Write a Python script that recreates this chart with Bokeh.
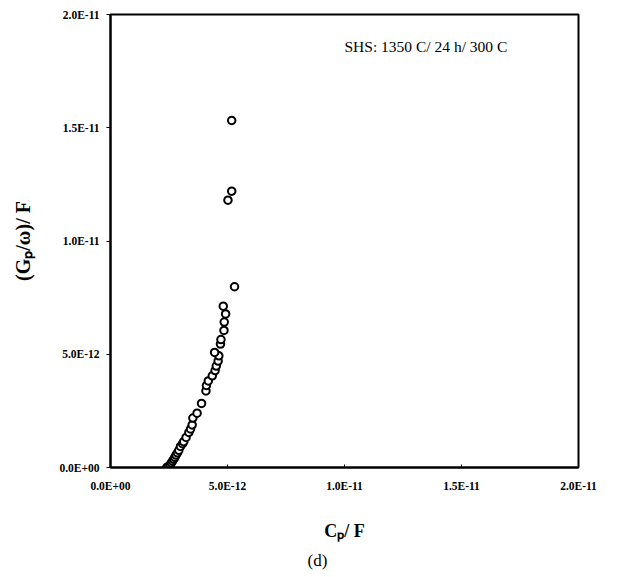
from bokeh.plotting import figure
from bokeh.models import Range1d, FixedTicker, Label, Title
from bokeh.embed import file_html
from bokeh.resources import INLINE

# Data (Cp / F  vs  (Gp/omega) / F)
cp_F = [2.40e-12, 2.48e-12, 2.55e-12, 2.60e-12, 2.65e-12, 2.70e-12, 2.75e-12, 2.80e-12,
        2.86e-12, 2.92e-12, 2.99e-12, 3.08e-12, 3.13e-12, 3.23e-12, 3.35e-12, 3.42e-12,
        3.49e-12, 3.52e-12, 3.70e-12, 3.89e-12, 4.08e-12, 4.10e-12, 4.18e-12, 4.35e-12,
        4.47e-12, 4.52e-12, 4.60e-12, 4.63e-12, 4.45e-12, 4.70e-12, 4.72e-12, 4.85e-12,
        4.86e-12, 4.92e-12, 4.82e-12, 5.30e-12, 5.02e-12, 5.18e-12, 5.18e-12]
gp_w_F = [0.00e-12, 0.05e-12, 0.12e-12, 0.20e-12, 0.28e-12, 0.36e-12, 0.45e-12, 0.55e-12,
          0.65e-12, 0.76e-12, 0.93e-12, 1.05e-12, 1.14e-12, 1.33e-12, 1.55e-12, 1.70e-12,
          1.88e-12, 2.18e-12, 2.40e-12, 2.83e-12, 3.38e-12, 3.62e-12, 3.82e-12, 4.05e-12,
          4.28e-12, 4.48e-12, 4.70e-12, 4.93e-12, 5.08e-12, 5.45e-12, 5.65e-12, 6.05e-12,
          6.42e-12, 6.78e-12, 7.12e-12, 7.98e-12, 11.80e-12, 12.20e-12, 15.32e-12]

tick_values = [0.0, 5e-12, 1e-11, 1.5e-11, 2e-11]
tick_labels = ["0.0E+00", "5.0E-12", "1.0E-11", "1.5E-11", "2.0E-11"]

annotation_text = "SHS: 1350 C/ 24 h/ 300 C"
x_label = "Cₚ/ F"
y_label = "(Gₚ/ω)/ F"
caption = "(d)"

SERIF = "Liberation Serif"

p = figure(frame_width=468, frame_height=453,
           min_border_left=110, min_border_right=59, min_border_top=14, min_border_bottom=80,
           x_range=Range1d(0, 2e-11), y_range=Range1d(0, 2e-11),
           output_backend="svg", toolbar_location=None)

p.scatter(cp_F, gp_w_F, size=7.5, marker="circle", fill_color="white",
          line_color="black", line_width=2)

p.grid.visible = False
p.outline_line_color = "black"
p.outline_line_width = 2
p.background_fill_color = "white"
p.border_fill_color = "white"

for ax in (p.xaxis, p.yaxis):
    ax.ticker = FixedTicker(ticks=tick_values)
    ax.major_label_overrides = dict(zip(tick_values, tick_labels))
    ax.minor_tick_line_color = None
    ax.axis_line_color = "black"
    ax.axis_line_width = 2
    ax.major_tick_line_color = "black"
    ax.major_tick_line_width = 1
    ax.major_label_text_font = SERIF
    ax.major_label_text_font_style = "bold"
    ax.major_label_text_font_size = "11.5px"
    ax.major_label_text_color = "black"
    ax.axis_label_text_font = SERIF
    ax.axis_label_text_font_style = "bold"
    ax.axis_label_text_color = "black"

p.xaxis.major_tick_in = 3
p.xaxis.major_tick_out = 0
p.xaxis.major_label_standoff = 12
p.xaxis.axis_label = x_label
p.xaxis.axis_label_text_font_size = "18px"
p.xaxis.axis_label_standoff = 26

p.yaxis.major_tick_in = 0
p.yaxis.major_tick_out = 4
p.yaxis.major_label_standoff = 7
p.yaxis.axis_label = y_label
p.yaxis.axis_label_text_font_size = "20px"
p.yaxis.axis_label_standoff = 22

p.add_layout(Label(x=1.0e-11, y=1.86e-11, text=annotation_text,
                   text_font=SERIF, text_font_size="15.5px", text_color="black",
                   text_baseline="middle"))

p.add_layout(Title(text=caption, align="left", offset=197, text_font=SERIF,
                   text_font_size="17px", text_font_style="normal",
                   text_color="black"), "below")

open("out.html", "w").write(file_html(p, INLINE))
